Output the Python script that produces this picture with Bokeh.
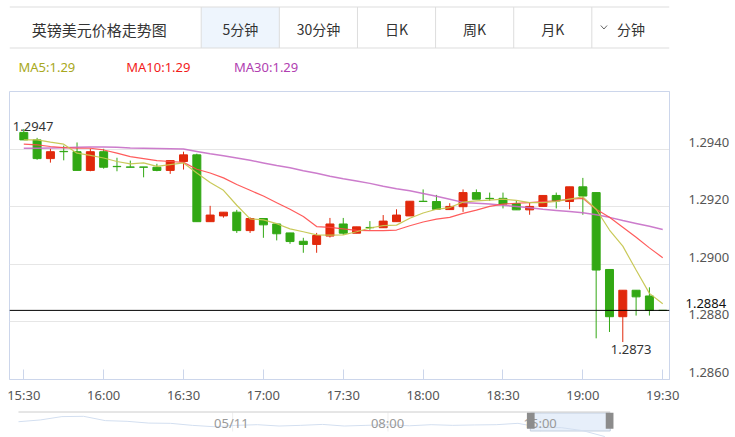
from bokeh.plotting import figure
from bokeh.models import (Range1d, LinearAxis, FixedTicker, Span, Grid,
                          PrintfTickFormatter, ColumnDataSource)
from bokeh.layouts import column
from bokeh.embed import file_html
from bokeh.resources import INLINE
from bokeh.core.properties import value

# ---------------- data ----------------
chart_title = "英镑美元价格走势图"
tabs = ["5分钟", "30分钟", "日K", "周K", "月K", "分钟"]

times = ["15:30", "15:35", "15:40", "15:45", "15:50", "15:55", "16:00", "16:05", "16:10", "16:15",
         "16:20", "16:25", "16:30", "16:35", "16:40", "16:45", "16:50", "16:55", "17:00", "17:05",
         "17:10", "17:15", "17:20", "17:25", "17:30", "17:35", "17:40", "17:45", "17:50", "17:55",
         "18:00", "18:05", "18:10", "18:15", "18:20", "18:25", "18:30", "18:35", "18:40", "18:45",
         "18:50", "18:55", "19:00", "19:05", "19:10", "19:15", "19:20", "19:25", "19:30"]

opens = [1.29458, 1.29432, 1.29367, 1.29392, 1.29391, 1.29326, 1.29391, 1.29340, 1.29338, 1.29338,
         1.29337, 1.29326, 1.29357, 1.29380, 1.29148, 1.29168, 1.29181, 1.29117, 1.29159, 1.29140,
         1.29109, 1.29080, 1.29069, 1.29098, 1.29140, 1.29108, 1.29128, 1.29127, 1.29148, 1.29168,
         1.29219, 1.29218, 1.29190, 1.29200, 1.29249, 1.29229, 1.29229, 1.29211, 1.29189, 1.29201,
         1.29239, 1.29218, 1.29269, 1.29249, 1.28982, 1.28818, 1.28910, 1.28890, 1.28840]
highs = [1.29470, 1.29439, 1.29401, 1.29412, 1.29423, 1.29401, 1.29401, 1.29370, 1.29360, 1.29338,
         1.29349, 1.29360, 1.29391, 1.29384, 1.29203, 1.29181, 1.29189, 1.29163, 1.29159, 1.29140,
         1.29109, 1.29092, 1.29109, 1.29161, 1.29161, 1.29130, 1.29150, 1.29171, 1.29191, 1.29219,
         1.29260, 1.29241, 1.29212, 1.29260, 1.29260, 1.29249, 1.29249, 1.29220, 1.29214, 1.29239,
         1.29249, 1.29269, 1.29300, 1.29249, 1.28982, 1.28910, 1.28910, 1.28920, 1.28840]
lows = [1.29432, 1.29363, 1.29353, 1.29361, 1.29326, 1.29323, 1.29332, 1.29323, 1.29337, 1.29302,
        1.29323, 1.29314, 1.29329, 1.29148, 1.29148, 1.29162, 1.29109, 1.29109, 1.29092, 1.29083,
        1.29071, 1.29040, 1.29040, 1.29093, 1.29102, 1.29108, 1.29120, 1.29127, 1.29148, 1.29168,
        1.29218, 1.29191, 1.29190, 1.29182, 1.29226, 1.29220, 1.29194, 1.29189, 1.29172, 1.29201,
        1.29194, 1.29191, 1.29172, 1.28743, 1.28765, 1.28730, 1.28822, 1.28822, 1.28840]
closes = [1.29432, 1.29367, 1.29391, 1.29391, 1.29326, 1.29391, 1.29337, 1.29339, 1.29337, 1.29337,
          1.29326, 1.29360, 1.29380, 1.29148, 1.29171, 1.29181, 1.29117, 1.29159, 1.29137, 1.29106,
          1.29079, 1.29069, 1.29100, 1.29140, 1.29108, 1.29130, 1.29127, 1.29150, 1.29171, 1.29219,
          1.29218, 1.29191, 1.29201, 1.29249, 1.29226, 1.29228, 1.29209, 1.29189, 1.29201, 1.29239,
          1.29220, 1.29269, 1.29237, 1.28980, 1.28818, 1.28910, 1.28887, 1.28840, 1.28840]

ma5 = [1.29432, 1.29432, 1.29424, 1.29417, 1.29386, 1.29378, 1.29369, 1.29357, 1.29349, 1.29352,
       1.29340, 1.29346, 1.29352, 1.29317, 1.29284, 1.29257, 1.29205, 1.29158, 1.29154, 1.29141,
       1.29123, 1.29113, 1.29102, 1.29101, 1.29102, 1.29113, 1.29126, 1.29134, 1.29136, 1.29160,
       1.29178, 1.29191, 1.29197, 1.29216, 1.29220, 1.29223, 1.29226, 1.29222, 1.29214, 1.29214,
       1.29218, 1.29226, 1.29234, 1.29191, 1.29119, 1.29063, 1.28980, 1.28899, 1.28863]
ma10 = [1.29417, 1.29415, 1.29409, 1.29405, 1.29403, 1.29403, 1.29397, 1.29386, 1.29374, 1.29367,
        1.29360, 1.29357, 1.29354, 1.29330, 1.29317, 1.29300, 1.29277, 1.29257, 1.29237, 1.29214,
        1.29191, 1.29166, 1.29131, 1.29128, 1.29123, 1.29118, 1.29117, 1.29117, 1.29119, 1.29134,
        1.29147, 1.29157, 1.29163, 1.29177, 1.29188, 1.29201, 1.29209, 1.29212, 1.29214, 1.29218,
        1.29220, 1.29226, 1.29229, 1.29191, 1.29163, 1.29129, 1.29094, 1.29057, 1.29023]
ma30 = [1.29403, 1.29403, 1.29404, 1.29405, 1.29406, 1.29407, 1.29407, 1.29406, 1.29404, 1.29403,
        1.29402, 1.29401, 1.29400, 1.29392, 1.29384, 1.29377, 1.29369, 1.29361, 1.29352, 1.29343,
        1.29335, 1.29325, 1.29316, 1.29306, 1.29297, 1.29289, 1.29281, 1.29271, 1.29262, 1.29255,
        1.29246, 1.29236, 1.29226, 1.29215, 1.29212, 1.29209, 1.29205, 1.29201, 1.29196, 1.29191,
        1.29187, 1.29183, 1.29179, 1.29172, 1.29163, 1.29152, 1.29142, 1.29132, 1.29121]

x_tick_labels = ["15:30", "16:00", "16:30", "17:00", "17:30", "18:00", "18:30", "19:00", "19:30"]
y_ticks = [1.2860, 1.2880, 1.2900, 1.2920, 1.2940]

nav_prices = [1.29309, 1.29366, 1.29474, 1.29483, 1.29344, 1.29322, 1.29265, 1.29257, 1.29192, 1.29148,
              1.29192, 1.29213, 1.29170, 1.29192, 1.29222, 1.29170, 1.29192, 1.29213, 1.29178, 1.29213,
              1.29192, 1.29205, 1.29213, 1.29257, 1.29126, 1.29118, 1.29018, 1.28830]
nav_labels = ["05/11", "08:00", "15:00"]

# ---------------- styles ----------------
FONT = "Noto Sans"
CJK = "Noto Sans CJK SC"
RED = "#e1290c"
GREEN = "#32a814"
AXIS = "#ccd6eb"
LABEL = "#555555"
W = 735


def blank(width, height, xr, yr):
    f = figure(width=width, height=height, x_range=xr, y_range=yr, output_backend="svg",
               toolbar_location=None, x_axis_location=None, y_axis_location=None, min_border=0)
    f.grid.visible = False
    f.outline_line_color = None
    return f


# ---------------- header (tabs + legend) ----------------
hdr = blank(W, 86, Range1d(0, W), Range1d(86, 0))
seps = [213.5, 300.5, 387.5, 474.5, 561.5, 648.5]
hdr.quad(left=[seps[0]], right=[seps[1]], top=[6.5], bottom=[47.5], fill_color="#eef5fd", line_color=None)
hdr.segment(x0=seps, y0=[6.5] * len(seps), x1=seps, y1=[47.5] * len(seps), line_color="#dddddd", line_width=1)
hdr.segment(x0=[0, 0], y0=[6.5, 47.5], x1=[W, W], y1=[6.5, 47.5], line_color="#dddddd", line_width=1)
hdr.text(x=[100], y=[28.5], text=[chart_title], text_font=value(CJK), text_font_size="15px",
         text_color="#333333", text_align="center", text_baseline="middle")
edges = seps + [W]
centers = [(a + b) / 2 for a, b in zip(edges[:-1], edges[1:])]
centers[-1] = 692
hdr.text(x=centers, y=[28.5] * len(tabs), text=tabs, text_font=value(CJK), text_font_size="14px",
         text_color="#333333", text_align="center", text_baseline="middle")
hdr.line(x=[658.5, 662, 665.5], y=[25, 28.5, 25], line_color="#666666", line_width=1)
legend_text = ["MA5:%.2f" % ma5[-1], "MA10:%.2f" % ma10[-1], "MA30:%.2f" % ma30[-1]]
hdr.text(x=[10, 130, 250], y=[66.5] * 3, text=legend_text, text_color=["#a8a820", "#f21a1a", "#b040b0"],
         text_font=value(FONT), text_font_size="13px", text_align="left", text_baseline="middle")

# ---------------- main candlestick chart ----------------
idx = list(range(len(times)))
x_start, x_end = -1.074, 48.509
p = figure(width=W, height=320, x_range=Range1d(x_start, x_end), y_range=Range1d(1.2860, 1.2960),
           output_backend="svg", toolbar_location=None, y_axis_location=None, x_axis_location="below",
           min_border_left=9, min_border_right=66, min_border_top=5, min_border_bottom=24)
p.outline_line_color = AXIS
p.grid.visible = False
p.add_layout(Grid(dimension=1, ticker=FixedTicker(ticks=y_ticks + [1.2960]), grid_line_color="#e6e6e6"))

# right axes: labels sit slightly above their grid lines
d = 0.00024
p.extra_y_ranges = {"lab": Range1d(1.2860 - d, 1.2960 - d)}


def right_axis(ticks, color, standoff, line_color):
    a = LinearAxis(y_range_name="lab", ticker=FixedTicker(ticks=ticks),
                   formatter=PrintfTickFormatter(format="%.4f"))
    a.axis_line_color = line_color
    a.major_tick_line_color = None
    a.minor_tick_line_color = None
    a.major_tick_out = 0
    a.major_tick_in = 0
    a.major_label_standoff = standoff
    a.major_label_text_font = FONT
    a.major_label_text_font_size = "13px"
    a.major_label_text_color = color
    return a


# inner axis: last price (black); outer axis pulled back onto the same column (grey)
p.add_layout(right_axis([closes[-1]], "#111111", 16, AXIS), "right")
p.add_layout(right_axis(y_ticks, LABEL, -41, None), "right")

xa = p.xaxis[0]
tick_pos = [times.index(t) for t in x_tick_labels]
xa.ticker = FixedTicker(ticks=tick_pos)
xa.major_label_overrides = {t: lab for t, lab in zip(tick_pos, x_tick_labels)}
xa.axis_line_color = AXIS
xa.major_tick_line_color = AXIS
xa.major_tick_in = 10
xa.major_tick_out = 0
xa.minor_tick_line_color = None
xa.major_label_standoff = 6
xa.major_label_text_font = FONT
xa.major_label_text_font_size = "13px"
xa.major_label_text_color = LABEL

colors = [RED if c > o else GREEN for o, c in zip(opens, closes)]
src = ColumnDataSource(dict(x=idx, o=opens, h=highs, l=lows, c=closes,
                            top=[max(o, c) for o, c in zip(opens, closes)],
                            bottom=[min(o, c) for o, c in zip(opens, closes)],
                            color=colors))
p.segment(x0="x", y0="l", x1="x", y1="h", line_color="color", line_width=1, source=src)
p.vbar(x="x", width=0.6, top="top", bottom="bottom", fill_color="color", line_color="color",
       line_width=1, source=src)

p.line(idx, ma30, line_color="#c66ec6", line_width=1.5, line_alpha=0.9)
p.line(idx, ma10, line_color="#ff4a4a", line_width=1.2, line_alpha=0.9)
p.line(idx, ma5, line_color="#c6c650", line_width=1.2, line_alpha=0.95)

p.add_layout(Span(location=closes[-1], dimension="width", line_color="#000000", line_width=1))

i_max = highs.index(max(highs))
i_min = lows.index(min(lows))
p.text(x=[i_max], y=[highs[i_max]], text=["%.4f" % highs[i_max]], text_font=value(FONT),
       text_font_size="13px", text_color="#333333", text_align="left", text_baseline="middle",
       x_offset=-11, y_offset=-2)
p.text(x=[i_min], y=[lows[i_min]], text=["%.4f" % lows[i_min]], text_font=value(FONT),
       text_font_size="13px", text_color="#333333", text_align="left", text_baseline="middle",
       x_offset=-12, y_offset=7)

# ---------------- navigator strip ----------------
nav = blank(W, 31, Range1d(0, W), Range1d(437, 406))
nav.extra_y_ranges = {"price": Range1d(1.2880, 1.2980)}
nav.extra_x_ranges = {"t": Range1d(-0.4135, 29.978)}
nav_pos = [248.5, 421.5, 591.5]
nav.segment(x0=nav_pos, y0=[412] * 3, x1=nav_pos, y1=[431] * 3, line_color="#eeeeee")
nav.quad(left=[580], right=[669], top=[412.5], bottom=[430.5], fill_color="#e4edf9", fill_alpha=0.9,
         line_color="#c3cfdf")
nav.segment(x0=[10], y0=[411.5], x1=[669], y1=[411.5], line_color="#cccccc", line_width=1)
nav.line(list(range(len(nav_prices))), nav_prices, x_range_name="t", y_range_name="price",
         line_color="#d3dff0", line_width=1)
nav.text(x=[247, 421, 591], y=[422.5] * 3, text=nav_labels, text_font=value(FONT), text_font_size="13px",
         text_color="#999999", text_align="center", text_baseline="middle")
nav.quad(left=[576.2, 664], right=[584.8, 672.6], top=[412.3, 412.3], bottom=[428.3, 428.3],
         fill_color="#8c8c8c", line_color=None)

layout = column(hdr, p, nav, spacing=0)
open("out.html", "w").write(file_html(layout, INLINE, "英镑美元价格走势图"))
